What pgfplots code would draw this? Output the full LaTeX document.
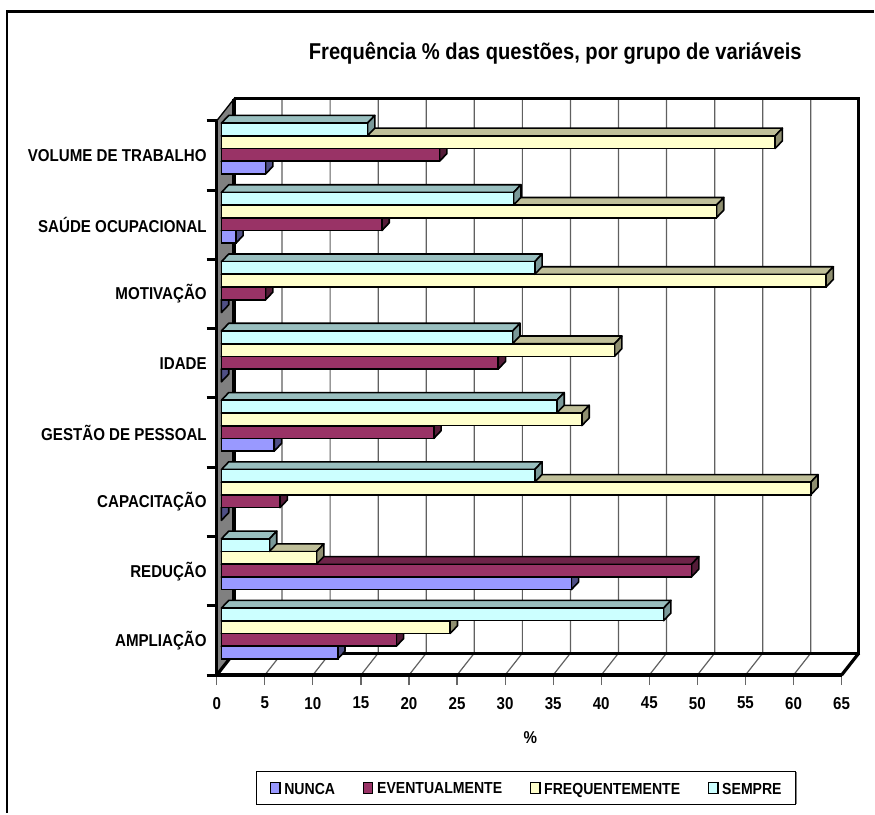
\documentclass[border=0pt]{standalone}
\usepackage{fontspec}
\setmainfont{Liberation Sans}[FakeStretch=0.88]
\usepackage{pgfplots}
\usepackage{pgfplotstable}
\pgfplotsset{compat=1.18}
\definecolor{nf}{HTML}{9999FF}\definecolor{nt}{HTML}{7373BF}\definecolor{ns}{HTML}{4F4F85}
\definecolor{ef}{HTML}{993366}\definecolor{et}{HTML}{6E2449}\definecolor{es}{HTML}{541C38}
\definecolor{ff}{HTML}{FFFFCC}\definecolor{ft}{HTML}{BFBF99}\definecolor{fs}{HTML}{8F8F70}
\definecolor{sf}{HTML}{CCFFFF}\definecolor{st}{HTML}{99BFBF}\definecolor{ss}{HTML}{7A9999}
\definecolor{wallgray}{HTML}{808080}
\pgfplotstableread{
pos  nunca eventual frequente sempre
0.6  12.1  18.2     23.8      46.0
1.6  36.4  48.9     9.9       5.0
2.6  0     6.1      61.3      32.6
3.6  5.5   22.1     37.5      34.9
4.6  0     28.8     40.9      30.3
5.6  0     4.6      62.9      32.6
6.6  1.5   16.7     51.5      30.4
7.6  4.6   22.7     57.6      15.2
}\datatab
\def\xo{0.488}\def\bdx{0.76}\def\bdy{0.111}\def\wdx{1.797}\def\wdy{0.317}
% top and side faces of one series, from the same table
\newcommand\barfaces[4]{%
 \pgfplotsforeachungrouped \k in {0,...,7}{%
  \pgfplotstablegetelem{\k}{#1}\of\datatab\let\v\pgfplotsretval
  \pgfmathsetmacro\ya{\k+0.6+#2-0.0908}\pgfmathsetmacro\yb{\k+0.6+#2+0.0908}%
  \pgfmathsetmacro\yc{\yb+\bdy}\pgfmathsetmacro\yd{\ya+\bdy}%
  \pgfmathsetmacro\xa{\xo+\v}\pgfmathsetmacro\xb{\xa+\bdx}\pgfmathsetmacro\xc{\xo+\bdx}%
  \addplot[forget plot,fill=#3,draw=black,line width=1.2pt,line join=round] coordinates {(\xo,\yb) (\xc,\yc) (\xb,\yc) (\xa,\yb)} -- cycle;
  \addplot[forget plot,fill=#4,draw=black,line width=1.2pt,line join=round] coordinates {(\xa,\ya) (\xa,\yb) (\xb,\yc) (\xb,\yd)} -- cycle;
 }}
\pgfplotsset{swatch/.style={legend image code/.code={\draw[fill=#1,draw=black,line width=1pt] (0pt,-3.6pt) rectangle (7pt,4.6pt);}}}
\begin{document}
\begin{tikzpicture}[x=1pt,y=1pt]
\path (0,0) rectangle (656.25pt,610.5pt);
\draw[line width=1.8pt] (5.1pt,0) -- (5.1pt,601.9pt) -- (656.25pt,601.9pt);
% legend box shadow
\fill[gray] (193pt,6.9pt) rectangle (598.3pt,31pt);
\begin{axis}[
 at={(162.75pt,103.5pt)},anchor=south west,
 scale only axis,width=469.3pt,height=416.25pt,
 xmin=0,xmax=65,ymin=0,ymax=8,clip=false,axis on top,
 axis x line=bottom,axis y line=left,
 x axis line style={-,line width=2.4pt},
 y axis line style={-,line width=2.4pt},
 xtick={0,5,...,65},ytick={0,...,8},
 y tick label as interval,
 yticklabels={AMPLIAÇÃO,REDUÇÃO,CAPACITAÇÃO,GESTÃO DE PESSOAL,IDADE,MOTIVAÇÃO,SAÚDE OCUPACIONAL,VOLUME DE TRABALHO},
 tick align=outside,major tick length=7.5pt,
 x tick style={draw=gray!80!black,line width=0.9pt},
 y tick style={draw=black,line width=2.2pt},
 tick label style={font=\bfseries\fontsize{12.9}{15}\selectfont},
 /pgf/number format/assume math mode=true,
 yticklabel style={xshift=3.5pt},
 xticklabel style={yshift=-5.5pt},
 every axis title shift=0pt,
 title={Frequência \% das questões, por grupo de variáveis},
 title style={at={(0.5418,1.122)},anchor=center,font=\bfseries\fontsize{17.2}{20}\selectfont},
 xlabel={\%},
 xlabel style={at={(0.502,-0.1135)},anchor=center,font=\bfseries\fontsize{12.9}{15}\selectfont},
 legend columns=-1,
 legend cell align=left,
 legend style={at={(0.0622,-0.1724)},anchor=north west,draw=black,line width=0.6pt,
   fill=white,
   font=\bfseries\fontsize{12}{14}\selectfont,inner xsep=10.5pt,inner ysep=8pt,
   nodes={inner sep=0pt,text depth=0pt},
   /tikz/every even column/.style={column sep=20.8pt},
   /tikz/every odd column/.style={column sep=2.8pt}},
]
% walls and floor
\addplot[forget plot,fill=wallgray,draw=black,line width=1pt] coordinates {(0,0) (\wdx,\wdy) (\wdx,8.317) (0,8)} -- cycle;
\addplot[forget plot,fill=white,draw=none] coordinates {(\wdx,\wdy) (66.797,\wdy) (66.797,8.317) (\wdx,8.317)} -- cycle;
\pgfplotsinvokeforeach{5,10,...,60}{
 \pgfmathsetmacro\gx{#1+\wdx}
 \addplot[forget plot,draw=gray!75!black,line width=0.9pt] coordinates {(#1,0) (\gx,\wdy) (\gx,8.317)};
}
\addplot[forget plot,draw=black,line width=2.4pt,line join=miter] coordinates {(\wdx,8.317) (66.797,8.317) (66.797,\wdy) (\wdx,\wdy) (\wdx,8.317)};
\addplot[forget plot,draw=black,line width=2.4pt] coordinates {(0,0) (\wdx,\wdy)};
\addplot[forget plot,draw=black,line width=2.4pt] coordinates {(65,0) (66.797,\wdy)};
% series
\barfaces{nunca}{-0.276}{nt}{ns}
\addplot[xbar,bar width=9.45pt,bar shift=-14.37pt,xshift=3.525pt,fill=nf,draw=black,line width=1.2pt,swatch=nf] table[x=nunca,y=pos] {\datatab};
\addlegendentry{NUNCA}
\barfaces{eventual}{-0.092}{et}{es}
\addplot[xbar,bar width=9.45pt,bar shift=-4.79pt,xshift=3.525pt,fill=ef,draw=black,line width=1.2pt,swatch=ef] table[x=eventual,y=pos] {\datatab};
\addlegendentry{EVENTUALMENTE}
\barfaces{frequente}{0.092}{ft}{fs}
\addplot[xbar,bar width=9.45pt,bar shift=4.79pt,xshift=3.525pt,fill=ff,draw=black,line width=1.2pt,swatch=ff] table[x=frequente,y=pos] {\datatab};
\addlegendentry{FREQUENTEMENTE}
\barfaces{sempre}{0.276}{st}{ss}
\addplot[xbar,bar width=9.45pt,bar shift=14.37pt,xshift=3.525pt,fill=sf,draw=black,line width=1.2pt,swatch=sf] table[x=sempre,y=pos] {\datatab};
\addlegendentry{SEMPRE}
\end{axis}
\end{tikzpicture}
\end{document}
